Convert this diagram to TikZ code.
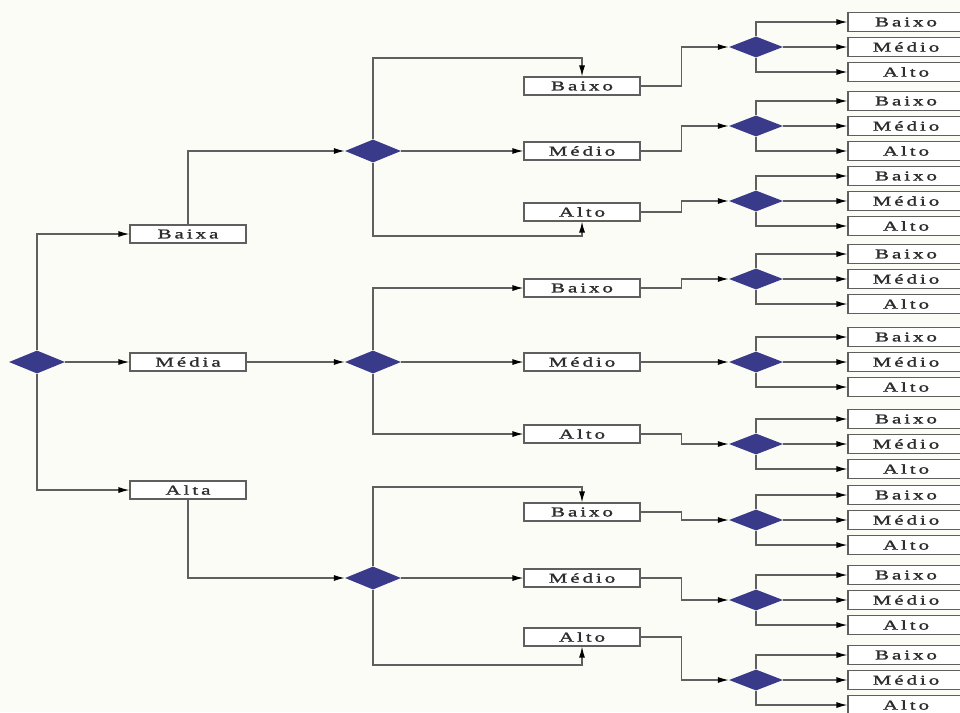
\documentclass[tikz,border=0pt]{standalone}
\usepackage{fontspec}
\usetikzlibrary{shapes.geometric,arrows.meta}
\newfontfamily\lblfont[FakeStretch=1.55,LetterSpace=22,FakeBold=1.5]{Liberation Serif}
\definecolor{bgcol}{RGB}{252,252,247}
\definecolor{diacol}{RGB}{58,58,138}
\definecolor{linecol}{RGB}{95,95,95}
\definecolor{txtcol}{RGB}{45,45,45}
\tikzset{
  dia/.style={diamond, fill=diacol, draw=none, inner sep=0pt,
              minimum width=56pt, minimum height=23pt},
  dia3/.style={dia, minimum width=54pt, minimum height=21pt},
  box/.style={rectangle, draw=linecol, line width=1.1pt, fill=white,
              inner sep=0pt, minimum width=116pt, minimum height=18pt,
              text=txtcol, font=\lblfont\fontsize{13.5}{13.5}\selectfont},
  leaf/.style={box, minimum height=19pt},
  conn/.style={draw=linecol, line width=1.2pt},
  arr/.style={conn, -{Latex[length=11pt,width=6pt,color=black,fill=black]}},
}
\begin{document}
\begin{tikzpicture}[x=1pt,y=-1pt]
  \fill[bgcol] (0,0) rectangle (960,712);
  \clip (0,0) rectangle (960,712);

  % root decision and first-level options
  \node[dia] (d0) at (37,362) {};
  \node[box] (b1) at (188,234) {Baixa};
  \node[box] (b2) at (188,362) {Média};
  \node[box] (b3) at (188,490) {Alta};
  \draw[arr] (d0.north) |- (b1.west);
  \draw[arr] (d0) -- (b2);
  \draw[arr] (d0.south) |- (b3.west);

  % second-level decisions
  \node[dia] (e1) at (373,151) {};
  \node[dia] (e2) at (373,362) {};
  \node[dia] (e3) at (373,578) {};
  \draw[arr] (b1.north) |- (e1.west);
  \draw[arr] (b2.east) -- (e2.west);
  \draw[arr] (b3.south) |- (e3.west);

  % second-level options
  \node[box] (c11) at (582,86)  {Baixo};
  \node[box] (c12) at (582,151) {Médio};
  \node[box] (c13) at (582,212) {Alto};
  \node[box] (c21) at (582,288) {Baixo};
  \node[box] (c22) at (582,362) {Médio};
  \node[box] (c23) at (582,434) {Alto};
  \node[box] (c31) at (582,512) {Baixo};
  \node[box] (c32) at (582,578) {Médio};
  \node[box] (c33) at (582,637) {Alto};

  \coordinate (k11) at (373,58);
  \coordinate (k13) at (373,236);
  \draw[arr] (e1.north) -- (k11) -| (c11.north);
  \draw[arr] (e1.east) -- (c12.west);
  \draw[arr] (e1.south) -- (k13) -| (c13.south);

  \draw[arr] (e2.north) |- (c21.west);
  \draw[arr] (e2.east) -- (c22.west);
  \draw[arr] (e2.south) |- (c23.west);

  \coordinate (k31) at (373,487);
  \coordinate (k33) at (373,665);
  \draw[arr] (e3.north) -- (k31) -| (c31.north);
  \draw[arr] (e3.east) -- (c32.west);
  \draw[arr] (e3.south) -- (k33) -| (c33.south);

  % third-level decisions with their three outcomes
  \foreach \i/\y/\src in {1/47/c11, 2/126/c12, 3/201/c13,
                          4/279/c21, 5/362/c22, 6/444/c23,
                          7/520/c31, 8/600/c32, 9/680/c33} {
    \node[dia3] (f\i) at (756,\y) {};
    \node[leaf] (g\i a) at (906,\y-25) {Baixo};
    \node[leaf] (g\i b) at (906,\y)    {Médio};
    \node[leaf] (g\i c) at (906,\y+25) {Alto};
    \draw[arr] (\src.east) -- ++(41,0) |- (f\i.west);
    \draw[arr] (f\i.north) |- (g\i a.west);
    \draw[arr] (f\i.east) -- (g\i b.west);
    \draw[arr] (f\i.south) |- (g\i c.west);
  }
\end{tikzpicture}
\end{document}
